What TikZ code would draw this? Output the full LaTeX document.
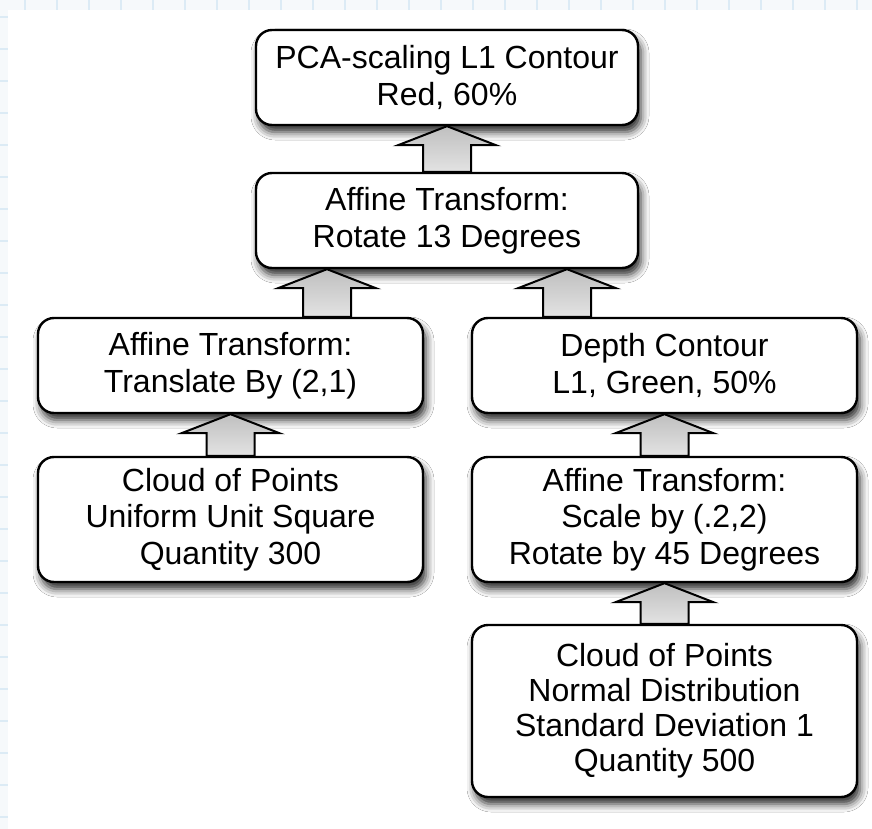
\documentclass[tikz,border=0pt]{standalone}
\usepackage{fontspec}
\setmainfont{Liberation Sans}
\usetikzlibrary{calc,shadows.blur}
\definecolor{gridc}{RGB}{220,235,245}
\definecolor{stripc}{RGB}{246,249,251}
\tikzset{
  box/.style={draw=black, line width=2.4pt, fill=white, rounded corners=16pt,
    minimum width=385pt, inner sep=0pt, align=center,
    font=\fontsize{32}{36.5}\selectfont,
    blur shadow={shadow xshift=3pt, shadow yshift=-7pt, shadow blur radius=8pt, shadow opacity=85}},
  arrowfill/.style={draw=black, line width=2pt, line join=miter, top color=gray!50, bottom color=gray!22},
  gridline/.style={draw=gridc, line width=2pt}
}
\newcommand\uparr[2]{%
  \path let \p1=(#1), \p2=(#2) in
    [arrowfill] (\x1,\y1) -- (\x1+49pt,\y1-19pt) -- (\x1+24pt,\y1-19pt) -- (\x1+24pt,\y2)
    -- (\x1-24pt,\y2) -- (\x1-24pt,\y1-19pt) -- (\x1-49pt,\y1-19pt) -- cycle;}
\begin{document}
\begin{tikzpicture}[x=1pt,y=-1pt]
\useasboundingbox (0,0) rectangle (872,829);
\fill[stripc] (0,0) rectangle (872,829);
\foreach \i in {0,...,27} \draw[gridline] (25+32*\i,0) -- (25+32*\i,10);
\foreach \j in {0,...,25} \draw[gridline] (0,17+32*\j) -- (8,17+32*\j);
\fill[white] (8,10) rectangle (872,829);

\node[box, minimum width=382pt, minimum height=95pt] (b1) at (447,77.5) {PCA-scaling L1 Contour\\Red, 60\%};
\node[box, minimum width=382pt, minimum height=95pt] (b2) at (447,220.5) {Affine Transform:\\Rotate 13 Degrees};
\node[box, minimum height=95pt] (b3) at (230.5,365.5) {Affine Transform:\\Translate By (2,1)};
\node[box, minimum height=95pt] (b4) at (664.5,365.5) {Depth Contour\\L1, Green, 50\%};
\node[box, minimum height=125pt] (b5) at (230.5,519.5) {Cloud of Points\\Uniform Unit Square\\Quantity 300};
\node[box, minimum height=125pt] (b6) at (664.5,519.5) {Affine Transform:\\Scale by (.2,2)\\Rotate by 45 Degrees};
\node[box, minimum height=172pt, font=\fontsize{32}{35}\selectfont] (b7) at (664.5,711) {Cloud of Points\\Normal Distribution\\Standard Deviation 1\\Quantity 500};

\coordinate (t21) at (b1.south);
\coordinate (t32) at ($(b2.south)+(-120,0)$);
\coordinate (t42) at ($(b2.south)+(120,0)$);
\coordinate (t53) at (b3.south);
\coordinate (t64) at (b4.south);
\coordinate (t76) at (b6.south);

\uparr{t21}{b2.north}
\uparr{t32}{b3.north}
\uparr{t42}{b4.north}
\uparr{t53}{b5.north}
\uparr{t64}{b6.north}
\uparr{t76}{b7.north}
\end{tikzpicture}
\end{document}
